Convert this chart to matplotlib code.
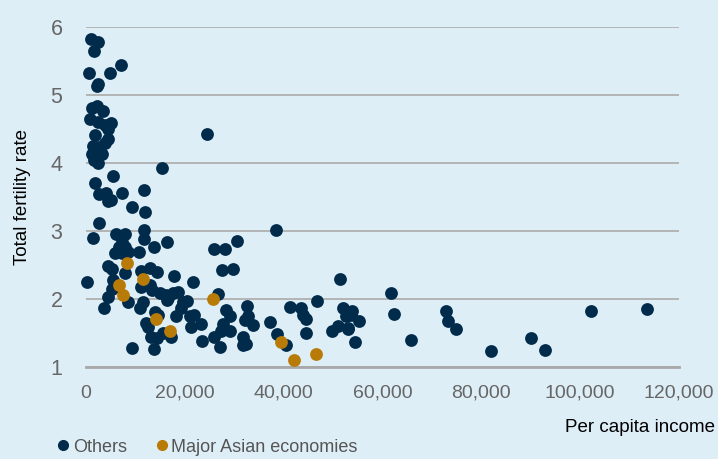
import numpy as np
import matplotlib.pyplot as plt
from matplotlib.lines import Line2D

plt.rcParams['font.family'] = ['Liberation Sans', 'DejaVu Sans']

# per capita income (thousands) and total fertility rate
others_x = [
    0.95, 2.5, 1.6, 7.1, 0.67, 4.9, 2.3, 2.5,
    2.3, 1.15, 3.4, 0.8, 2.5, 5.0, 3.8, 4.5, 1.8, 4.5, 3.8, 1.5, 2.6, 1.15, 3.2, 1.7, 2.4,
    24.5, 15.4, 5.4, 1.8, 11.8, 7.3, 2.6, 4.0, 4.4, 5.0, 9.4, 12.0, 2.6, 1.5,
    6.0, 7.9, 7.3, 6.7, 7.9, 11.8, 11.8, 13.7, 16.4, 5.9, 7.2, 8.5, 10.7,
    4.5, 5.2, 7.9, 11.2, 12.9, 14.3, 17.8, 0.26, 5.5, 5.2, 11.2, 12.9, 13.3, 14.9, 16.1, 16.6, 17.6,
    18.6, 4.5, 8.4, 11.6, 3.6, 11.0, 16.4, 19.3, 19.6, 18.3, 13.9, 14.6, 12.1, 12.6, 13.1, 14.3,
    15.6, 17.2, 9.4, 13.7,
    38.4, 30.6, 25.9, 28.2, 27.6, 29.8, 21.7, 26.8, 20.4, 21.1, 21.8, 23.2, 21.2, 28.4, 29.1,
    27.7, 27.4, 29.1, 32.5, 32.8, 32.1, 33.8, 25.9, 23.4, 27.1, 31.8, 31.7, 32.3, 37.3, 38.6,
    40.5, 41.3, 43.6, 43.9, 44.6, 46.7, 44.6, 51.5, 52.0, 52.7, 51.0, 49.8, 53.0,
    61.7, 53.9, 53.7, 55.2, 53.1, 54.5, 62.3, 65.7, 72.9, 73.3, 74.9, 81.9, 90.0, 92.9,
    102.1, 113.5,
]
others_y = [
    5.83, 5.79, 5.65, 5.44, 5.32, 5.32, 5.13, 5.16,
    4.84, 4.81, 4.77, 4.65, 4.61, 4.59, 4.56, 4.50, 4.41, 4.36, 4.29, 4.25, 4.23, 4.14, 4.14, 4.04, 4.00,
    4.43, 3.92, 3.81, 3.70, 3.60, 3.56, 3.54, 3.56, 3.44, 3.45, 3.35, 3.28, 3.11, 2.89,
    2.96, 2.96, 2.84, 2.77, 2.77, 3.01, 2.88, 2.76, 2.84, 2.68, 2.68, 2.69, 2.69,
    2.49, 2.44, 2.38, 2.41, 2.46, 2.40, 2.34, 2.25, 2.28, 2.15, 2.18, 2.20, 2.13, 2.08, 2.06, 2.01, 2.08,
    2.10, 2.02, 1.96, 1.96, 1.87, 1.87, 1.98, 1.86, 1.96, 1.74, 1.81, 1.76, 1.64, 1.59, 1.44, 1.43,
    1.49, 1.44, 1.28, 1.26,
    3.02, 2.85, 2.74, 2.74, 2.43, 2.44, 2.25, 2.07, 1.97, 1.75, 1.76, 1.63, 1.58, 1.84, 1.75,
    1.63, 1.53, 1.52, 1.90, 1.74, 1.69, 1.61, 1.44, 1.38, 1.29, 1.44, 1.32, 1.33, 1.66, 1.48,
    1.32, 1.88, 1.86, 1.76, 1.71, 1.97, 1.49, 2.29, 1.86, 1.75, 1.60, 1.52, 1.57,
    2.09, 1.82, 1.76, 1.67, 1.55, 1.36, 1.78, 1.39, 1.82, 1.68, 1.55, 1.23, 1.43, 1.24,
    1.82, 1.85,
]
asia_x = [8.3, 11.5, 6.7, 7.5, 14.1, 17.0, 25.6, 39.5, 42.0, 46.5]
asia_y = [2.53, 2.29, 2.20, 2.06, 1.70, 1.53, 1.99, 1.37, 1.10, 1.19]

navy = '#002b4b'
gold = '#b97b07'
bg = '#deeef7'

fig = plt.figure(figsize=(7.18, 4.59), dpi=100, facecolor=bg)
ax = fig.add_axes([86/718, 1 - 366.7/459, (679 - 86)/718, (366.7 - 27.3)/459])
ax.set_facecolor(bg)

ax.scatter(np.array(others_x) * 1000, others_y, s=85, color=navy, linewidths=0, zorder=3, clip_on=False)
ax.scatter(np.array(asia_x) * 1000, asia_y, s=85, color=gold, linewidths=0, zorder=4, clip_on=False)

ax.set_xlim(0, 120000)
ax.set_ylim(1, 6)
ax.set_yticks([1, 2, 3, 4, 5, 6])
ax.set_xticks(np.arange(0, 120001, 20000))
ax.set_xticklabels([f"{v:,}" for v in range(0, 120001, 20000)])
ax.grid(axis='y', color='#b0b0b0', linewidth=1.3, zorder=1)
for s in ['top', 'right', 'left']:
    ax.spines[s].set_visible(False)
ax.spines['bottom'].set_color('#a8a8a8')
ax.spines['bottom'].set_linewidth(2)
ax.tick_params(axis='both', length=0, labelsize=14, labelcolor='#666666')
ax.tick_params(axis='y', labelsize=15.5, pad=17)
ax.tick_params(axis='x', pad=13)

ax.set_ylabel('Total fertility rate', fontsize=13.5, color='black', labelpad=14)
fig.text(715/718, 1 - 428/459, 'Per capita income', fontsize=13.5, ha='right', va='center')

handles = [
    Line2D([], [], marker='o', linestyle='', color=navy, markersize=7),
    Line2D([], [], marker='o', linestyle='', color=gold, markersize=7),
]
leg = fig.legend(handles, ['Others', 'Major Asian economies'], loc='lower left',
                 bbox_to_anchor=(38/718, -0.028), ncol=2, frameon=False, fontsize=13,
                 handletextpad=0.05, columnspacing=1.4, handlelength=1.0)
for t in leg.get_texts():
    t.set_color('#555555')

fig.savefig('out.png', dpi=100, facecolor=bg)
